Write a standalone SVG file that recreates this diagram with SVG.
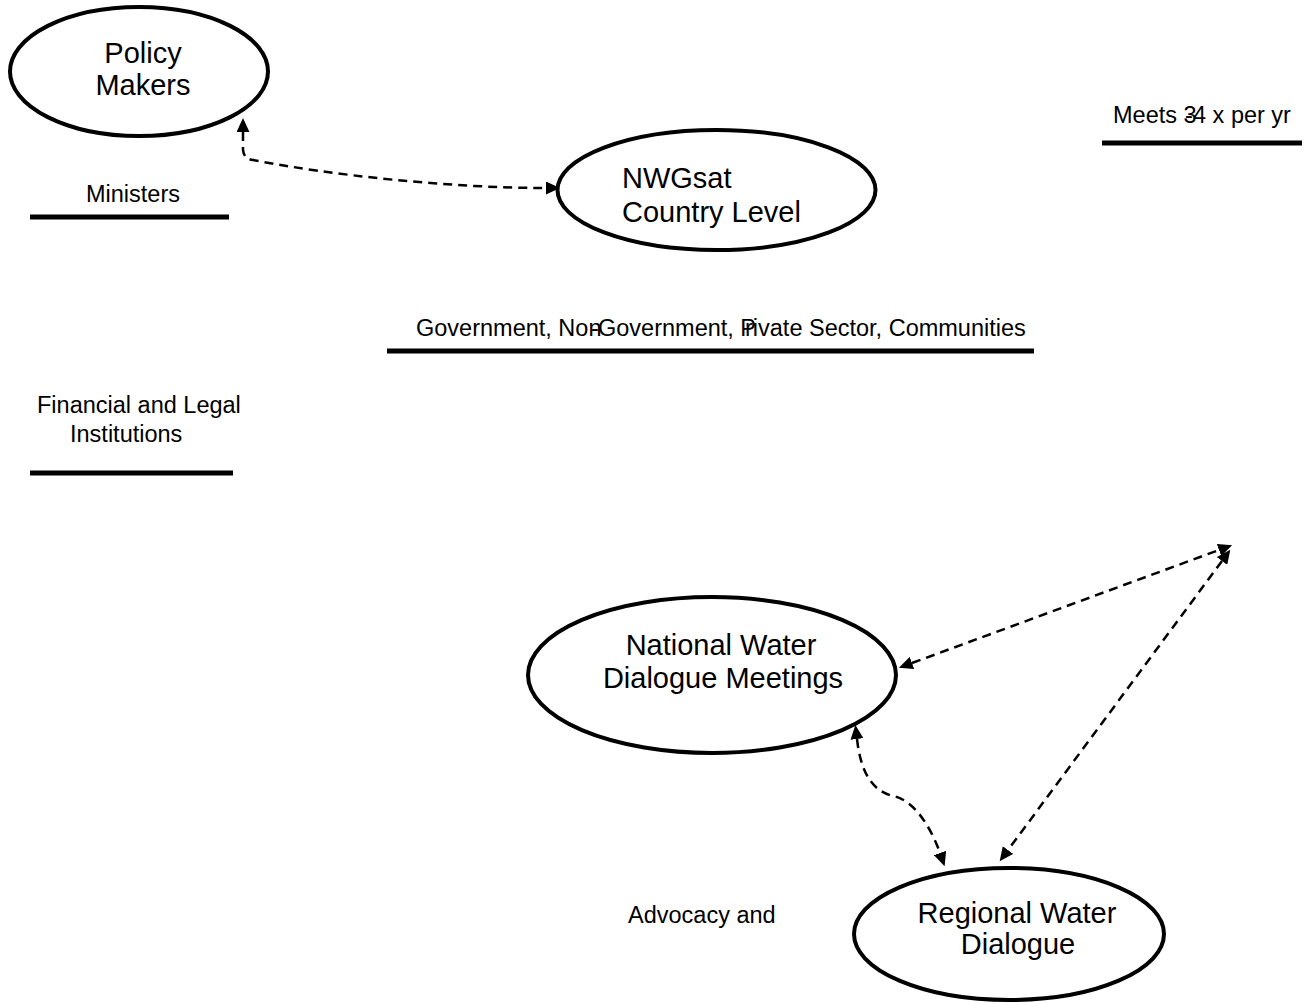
<svg xmlns="http://www.w3.org/2000/svg" width="1315" height="1002" viewBox="0 0 1315 1002">
<style>
.node{fill:#fff;stroke:#000;stroke-width:4}
.big{font-family:"Liberation Sans",Arial,sans-serif;font-size:29px;fill:#000}
.small{font-family:"Liberation Sans",Arial,sans-serif;font-size:23.5px;fill:#000}
.mid{text-anchor:middle}
.rule{stroke:#000;stroke-width:5}
.conn{fill:none;stroke:#000;stroke-width:2.5;stroke-dasharray:9 6;marker-start:url(#arr);marker-end:url(#arr)}
</style>
<defs>
<marker id="arr" viewBox="0 0 14 13" refX="0" refY="6.5" markerWidth="14" markerHeight="13" markerUnits="userSpaceOnUse" orient="auto-start-reverse">
<path d="M0,0 L14,6.5 L0,13 z" fill="#000"/>
</marker>
</defs>
<rect width="1315" height="1002" fill="#fff"/>
<g id="connectors">
<path class="conn" d="M243,132 L243,150 Q244,159 253,160 C330,175 450,188 546,188"/>
<path class="conn" d="M912,663 L1219,550"/>
<path class="conn" d="M1222,561 L1008,850"/>
<path class="conn" d="M857,739 C860,765 868,790 893,796 C915,800 932,830 940,853"/>
</g>
<g id="policy-makers">
<ellipse class="node" cx="139" cy="71.5" rx="129" ry="64.5"/>
<text class="big mid" x="143" y="63">Policy</text>
<text class="big mid" x="143" y="95">Makers</text>
</g>
<g id="nwgs">
<ellipse class="node" cx="716.5" cy="190" rx="159" ry="60"/>
<text class="big" x="622" y="188">NWGsat</text>
<text class="big" x="622" y="222">Country Level</text>
</g>
<g id="national">
<ellipse class="node" cx="712" cy="675" rx="184" ry="78"/>
<text class="big mid" x="721" y="655">National Water</text>
<text class="big mid" x="723" y="688">Dialogue Meetings</text>
</g>
<g id="regional">
<ellipse class="node" cx="1009" cy="934" rx="155" ry="66"/>
<text class="big mid" x="1017" y="923">Regional Water</text>
<text class="big mid" x="1018" y="954">Dialogue</text>
</g>
<g id="ministers">
<text class="small" x="86" y="202">Ministers</text>
<line class="rule" x1="30" y1="217" x2="229" y2="217"/>
</g>
<g id="meets">
<text class="small" y="123"><tspan x="1113">Meets 3</tspan><tspan x="1185">-</tspan><tspan x="1193">4 x per yr</tspan></text>
<line class="rule" x1="1102" y1="143" x2="1302" y2="143"/>
</g>
<g id="stakeholders">
<text class="small" y="336"><tspan x="416">Government, Non</tspan><tspan x="591">-</tspan><tspan x="598">Government, P</tspan><tspan x="745">rivate Sector, Communities</tspan></text>
<line class="rule" x1="387" y1="351" x2="1034" y2="351"/>
</g>
<g id="financial">
<text class="small" x="37" y="413">Financial and Legal</text>
<text class="small" x="70" y="442">Institutions</text>
<line class="rule" x1="30" y1="473" x2="233" y2="473"/>
</g>
<g id="advocacy">
<text class="small" x="628" y="923">Advocacy and</text>
</g>
</svg>
